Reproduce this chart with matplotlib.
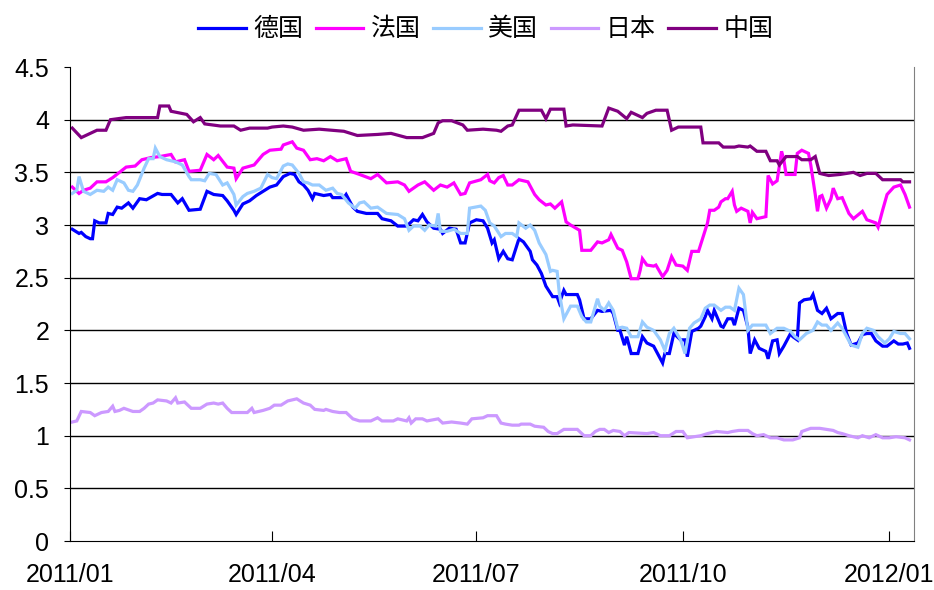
import matplotlib
matplotlib.use("Agg")
import matplotlib.pyplot as plt

# day offsets from 2011/01/01 and yields (%)
de_days = [1, 4, 5, 7, 9, 10, 11, 13, 16, 17, 19, 21, 23, 26, 28, 31, 34, 39, 41, 45, 48, 50, 53, 58, 61, 64,
           68, 70, 73, 74, 77, 80, 83, 86, 89, 92, 95, 98, 100, 102, 104, 106, 108, 109, 113, 116, 117, 122,
           123, 126, 128, 132, 137, 139, 143, 146, 150, 153, 155, 157, 159, 162, 165, 166, 169, 172, 174, 176,
           178, 181, 184, 186, 188, 189, 191, 193, 195, 197, 200, 202, 205, 206, 208, 210, 212, 215, 217, 218,
           220, 221, 226, 227, 229, 232, 235, 237, 241, 242, 244, 245, 247, 248, 250, 253, 255, 257, 260, 262,
           264, 265, 267, 269, 272, 274, 275, 277, 280, 281, 283, 284, 286, 287, 290, 291, 293, 295, 296, 298,
           300, 302, 303, 305, 307, 310, 311, 313, 315, 316, 318, 321, 322, 324, 325, 327, 330, 331, 333, 335,
           337, 339, 342, 344, 346, 348, 351, 353, 355, 357, 359, 362, 364, 367, 369, 371, 373, 374]
de_vals = [2.96, 2.92, 2.93, 2.89, 2.87, 2.87, 3.04, 3.02, 3.02, 3.11, 3.10, 3.17, 3.16, 3.21, 3.16, 3.25, 3.24,
           3.30, 3.29, 3.29, 3.21, 3.25, 3.14, 3.15, 3.32, 3.29, 3.28, 3.23, 3.14, 3.10, 3.20, 3.23, 3.28, 3.32,
           3.36, 3.38, 3.46, 3.49, 3.48, 3.41, 3.38, 3.33, 3.25, 3.30, 3.28, 3.29, 3.26, 3.26, 3.29, 3.17, 3.13,
           3.11, 3.11, 3.06, 3.04, 2.99, 2.99, 3.05, 3.04, 3.10, 3.03, 2.97, 2.96, 2.92, 2.97, 2.96, 2.83, 2.83,
           3.02, 3.05, 3.04, 2.97, 2.83, 2.86, 2.68, 2.75, 2.68, 2.67, 2.87, 2.84, 2.75, 2.67, 2.62, 2.54, 2.42,
           2.32, 2.32, 2.26, 2.38, 2.34, 2.34, 2.29, 2.11, 2.11, 2.19, 2.18, 2.19, 2.16, 2.00, 2.00, 1.86, 1.94,
           1.78, 1.78, 1.94, 1.88, 1.85, 1.77, 1.69, 1.78, 1.78, 1.97, 1.91, 1.91, 1.75, 1.99, 2.02, 2.04, 2.13,
           2.19, 2.11, 2.19, 2.04, 2.03, 2.11, 2.11, 2.05, 2.21, 2.19, 2.03, 1.78, 1.91, 1.83, 1.80, 1.73, 1.90,
           1.91, 1.78, 1.85, 1.97, 1.94, 1.91, 2.26, 2.29, 2.30, 2.34, 2.19, 2.16, 2.21, 2.11, 2.16, 2.16, 1.97,
           1.86, 1.88, 1.96, 1.97, 1.97, 1.90, 1.85, 1.85, 1.90, 1.87, 1.87, 1.88, 1.83]

fr_days = [1, 4, 6, 9, 12, 16, 19, 25, 29, 32, 36, 40, 45, 47, 51, 53, 58, 61, 64, 66, 70, 73, 74, 77, 82, 86,
           89, 94, 95, 99, 101, 104, 107, 110, 113, 116, 119, 123, 125, 129, 134, 137, 141, 146, 149, 151, 155,
           158, 162, 165, 168, 171, 174, 176, 178, 183, 186, 187, 189, 191, 193, 195, 197, 200, 204, 207, 209,
           212, 214, 216, 219, 221, 223, 227, 228, 232, 235, 237, 240, 241, 244, 246, 248, 250, 253, 254, 255,
           257, 260, 261, 264, 266, 268, 270, 273, 275, 277, 280, 283, 284, 285, 287, 289, 290, 292, 293, 295,
           296, 297, 299, 302, 303, 304, 306, 310, 311, 313, 315, 317, 318, 319, 323, 324, 326, 329, 330, 332,
           333, 334, 335, 337, 339, 340, 342, 344, 347, 349, 353, 355, 359, 360, 362, 364, 367, 370, 372, 374]
fr_vals = [3.36, 3.30, 3.33, 3.35, 3.41, 3.41, 3.45, 3.55, 3.56, 3.62, 3.64, 3.65, 3.67, 3.60, 3.62, 3.51, 3.52,
           3.67, 3.62, 3.66, 3.55, 3.54, 3.44, 3.54, 3.57, 3.67, 3.71, 3.72, 3.76, 3.79, 3.73, 3.71, 3.62, 3.63,
           3.61, 3.65, 3.61, 3.63, 3.51, 3.48, 3.44, 3.48, 3.40, 3.41, 3.38, 3.32, 3.38, 3.41, 3.33, 3.38, 3.36,
           3.40, 3.29, 3.30, 3.40, 3.43, 3.48, 3.42, 3.40, 3.45, 3.47, 3.38, 3.38, 3.43, 3.41, 3.29, 3.24, 3.19,
           3.20, 3.16, 3.22, 3.03, 3.00, 2.95, 2.76, 2.76, 2.84, 2.83, 2.86, 2.91, 2.78, 2.76, 2.65, 2.49, 2.49,
           2.57, 2.68, 2.62, 2.61, 2.62, 2.51, 2.57, 2.70, 2.62, 2.61, 2.57, 2.75, 2.75, 2.95, 3.02, 3.14, 3.14,
           3.17, 3.22, 3.25, 3.25, 3.32, 3.19, 3.13, 3.16, 3.13, 3.02, 3.12, 3.06, 3.08, 3.47, 3.39, 3.42, 3.70,
           3.62, 3.48, 3.48, 3.68, 3.71, 3.68, 3.57, 3.29, 3.13, 3.27, 3.28, 3.16, 3.25, 3.35, 3.25, 3.26, 3.11,
           3.06, 3.13, 3.05, 3.02, 2.98, 3.14, 3.29, 3.36, 3.38, 3.29, 3.17]

us_days = [1, 3, 4, 6, 9, 12, 15, 17, 19, 21, 24, 26, 28, 30, 33, 35, 37, 38, 40, 43, 47, 50, 53, 54, 58, 60, 62,
           65, 68, 70, 73, 74, 77, 79, 82, 85, 88, 90, 92, 95, 97, 99, 102, 104, 106, 108, 111, 114, 117, 119,
           121, 124, 127, 129, 131, 134, 137, 141, 146, 149, 151, 153, 156, 158, 160, 163, 164, 165, 168, 171,
           174, 177, 178, 183, 185, 187, 189, 192, 194, 197, 199, 200, 203, 205, 207, 209, 212, 214, 215, 217,
           218, 220, 223, 226, 228, 230, 232, 235, 236, 238, 240, 242, 244, 246, 248, 250, 253, 255, 257, 260,
           263, 265, 267, 269, 272, 274, 276, 278, 281, 283, 285, 287, 290, 292, 294, 296, 298, 300, 302, 304,
           307, 310, 312, 315, 318, 321, 323, 325, 328, 331, 333, 335, 337, 339, 342, 344, 346, 348, 351, 353,
           355, 358, 360, 363, 365, 367, 370, 372, 374]
us_vals = [3.30, 3.33, 3.46, 3.32, 3.29, 3.33, 3.32, 3.36, 3.33, 3.43, 3.40, 3.33, 3.32, 3.38, 3.54, 3.63, 3.63,
           3.73, 3.65, 3.62, 3.60, 3.57, 3.46, 3.43, 3.43, 3.42, 3.49, 3.48, 3.38, 3.40, 3.29, 3.19, 3.27, 3.30,
           3.32, 3.35, 3.48, 3.45, 3.44, 3.56, 3.58, 3.57, 3.49, 3.41, 3.40, 3.38, 3.38, 3.33, 3.35, 3.30, 3.29,
           3.21, 3.16, 3.21, 3.22, 3.16, 3.17, 3.11, 3.10, 3.06, 2.95, 2.99, 2.99, 2.95, 3.00, 2.99, 3.11, 2.94,
           2.94, 2.96, 2.92, 2.92, 3.16, 3.18, 3.14, 3.02, 2.99, 2.89, 2.92, 2.92, 2.89, 3.02, 2.97, 3.00, 2.95,
           2.83, 2.72, 2.56, 2.57, 2.56, 2.35, 2.11, 2.23, 2.23, 2.13, 2.08, 2.08, 2.30, 2.23, 2.19, 2.26, 2.19,
           2.02, 2.03, 2.02, 1.94, 1.94, 2.08, 2.03, 2.00, 1.91, 1.81, 1.97, 2.02, 1.91, 1.78, 2.02, 2.07, 2.11,
           2.21, 2.24, 2.24, 2.19, 2.22, 2.22, 2.19, 2.40, 2.34, 2.00, 2.05, 2.05, 2.05, 1.97, 2.02, 2.02, 1.99,
           1.94, 1.91, 1.97, 2.00, 2.08, 2.05, 2.05, 2.00, 2.07, 2.02, 1.94, 1.86, 1.84, 1.97, 2.02, 2.00, 1.94,
           1.88, 1.92, 1.99, 1.97, 1.97, 1.92]

jp_days = [1, 3, 5, 9, 11, 14, 17, 19, 20, 22, 24, 28, 31, 33, 35, 37, 39, 43, 45, 47, 48, 51, 54, 58, 61, 64,
           66, 68, 70, 72, 76, 79, 81, 82, 86, 89, 91, 94, 97, 101, 104, 107, 109, 113, 114, 117, 120, 123, 126,
           129, 134, 137, 139, 144, 146, 150, 151, 152, 154, 157, 159, 164, 166, 170, 174, 177, 179, 184, 186,
           190, 192, 194, 197, 200, 201, 205, 207, 211, 213, 215, 217, 220, 226, 227, 229, 232, 234, 236, 238,
           240, 242, 245, 247, 249, 257, 260, 263, 267, 270, 273, 275, 281, 284, 288, 293, 295, 298, 302, 304,
           306, 309, 312, 315, 318, 322, 325, 326, 330, 334, 337, 340, 342, 344, 347, 351, 353, 356, 359, 362,
           365, 368, 372, 374]
jp_vals = [1.13, 1.14, 1.23, 1.22, 1.19, 1.22, 1.23, 1.28, 1.23, 1.24, 1.26, 1.23, 1.23, 1.26, 1.30, 1.31, 1.34,
           1.33, 1.31, 1.36, 1.31, 1.32, 1.26, 1.26, 1.30, 1.31, 1.30, 1.31, 1.26, 1.22, 1.22, 1.22, 1.26, 1.22,
           1.24, 1.26, 1.29, 1.29, 1.33, 1.35, 1.31, 1.29, 1.25, 1.24, 1.25, 1.23, 1.22, 1.22, 1.16, 1.14, 1.14,
           1.17, 1.14, 1.14, 1.16, 1.14, 1.17, 1.12, 1.16, 1.16, 1.14, 1.16, 1.12, 1.13, 1.12, 1.11, 1.16, 1.17,
           1.19, 1.19, 1.12, 1.11, 1.10, 1.10, 1.11, 1.11, 1.09, 1.08, 1.04, 1.02, 1.02, 1.06, 1.06, 1.04, 1.00,
           1.00, 1.04, 1.06, 1.06, 1.03, 1.05, 1.04, 1.00, 1.03, 1.02, 1.03, 1.00, 1.00, 1.04, 1.04, 0.98, 1.00,
           1.02, 1.04, 1.03, 1.04, 1.05, 1.05, 1.02, 1.00, 1.01, 0.98, 0.98, 0.96, 0.96, 0.98, 1.04, 1.07, 1.07,
           1.06, 1.05, 1.03, 1.02, 1.00, 0.98, 1.00, 0.98, 1.01, 0.98, 0.98, 0.99, 0.98, 0.96]

cn_days = [1, 5, 9, 12, 16, 18, 25, 39, 40, 44, 45, 52, 55, 58, 60, 67, 73, 76, 80, 88, 90, 95, 99, 104, 111,
           122, 128, 137, 143, 150, 157, 162, 164, 166, 170, 175, 177, 184, 190, 192, 195, 197, 200, 210, 212,
           214, 220, 221, 224, 237, 240, 244, 248, 250, 255, 257, 261, 266, 268, 271, 281, 282, 289, 291, 296,
           298, 302, 303, 306, 310, 312, 315, 316, 319, 324, 326, 330, 332, 334, 338, 343, 349, 352, 355, 359,
           362, 370, 371, 374]
cn_vals = [3.92, 3.83, 3.87, 3.90, 3.90, 4.00, 4.02, 4.02, 4.13, 4.13, 4.08, 4.05, 3.98, 4.02, 3.96, 3.94, 3.94,
           3.90, 3.92, 3.92, 3.93, 3.94, 3.93, 3.90, 3.91, 3.89, 3.85, 3.86, 3.87, 3.83, 3.83, 3.87, 3.97, 3.99,
           3.99, 3.95, 3.90, 3.91, 3.90, 3.89, 3.94, 3.95, 4.09, 4.09, 4.01, 4.10, 4.10, 3.94, 3.95, 3.94, 4.11,
           4.08, 4.01, 4.07, 4.02, 4.06, 4.09, 4.09, 3.90, 3.93, 3.93, 3.78, 3.78, 3.74, 3.74, 3.75, 3.74, 3.75,
           3.70, 3.70, 3.61, 3.61, 3.57, 3.65, 3.65, 3.62, 3.62, 3.65, 3.49, 3.47, 3.48, 3.50, 3.47, 3.49, 3.49,
           3.43, 3.43, 3.41, 3.41]

names = ["德国", "法国", "美国", "日本", "中国"]
colors = ["#0000FF", "#FF00FF", "#99CCFF", "#CC99FF", "#800080"]
tick_days = [0, 90, 181, 273, 365]
tick_labels = ["2011/01", "2011/04", "2011/07", "2011/10", "2012/01"]

plt.rcParams["font.family"] = ["Liberation Sans", "Noto Sans CJK SC", "DejaVu Sans"]

fig = plt.figure(figsize=(9.34, 5.9), dpi=100)
ax = fig.add_axes([0.075, 0.083, 0.9036, 0.8034])

series = [(de_days, de_vals), (fr_days, fr_vals), (us_days, us_vals), (jp_days, jp_vals), (cn_days, cn_vals)]
for (d, v), name, c in zip(series, names, colors):
    ax.plot(d, v, color=c, lw=2.3, label=name, solid_joinstyle="miter")

ax.set_xlim(0, 376)
ax.set_ylim(0, 4.5)
ax.set_yticks([0, 0.5, 1, 1.5, 2, 2.5, 3, 3.5, 4, 4.5])
ax.set_yticklabels(["0", "0.5", "1", "1.5", "2", "2.5", "3", "3.5", "4", "4.5"])
ax.set_xticks(tick_days)
ax.set_xticklabels(tick_labels)

for yv in [0.5, 1, 1.5, 2, 2.5, 3, 3.5, 4]:
    ax.axhline(yv, color="black", lw=1, zorder=0)

ax.spines["top"].set_visible(False)
ax.spines["right"].set_color("#808080")
ax.spines["left"].set_color("black")
ax.spines["bottom"].set_color("black")
ax.tick_params(axis="x", direction="in", length=7, pad=16, labelsize=18, color="black")
ax.tick_params(axis="y", direction="out", length=4, pad=11, labelsize=18)

fig.legend(loc="center", bbox_to_anchor=(0.52, 0.950), ncol=5, frameon=False,
           prop={"family": ["Noto Sans CJK SC", "DejaVu Sans"], "size": 18},
           handlelength=1.9, handletextpad=0.3, columnspacing=0.5)

fig.savefig("out.png", dpi=100)
